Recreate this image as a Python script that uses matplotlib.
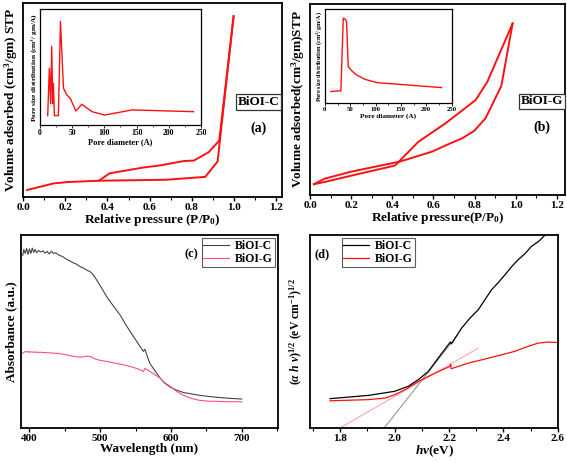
import matplotlib
matplotlib.use("Agg")
import matplotlib.pyplot as plt
from matplotlib.ticker import MultipleLocator

plt.rcParams["font.family"] = ["Liberation Serif", "DejaVu Serif"]
plt.rcParams["font.weight"] = "bold"
plt.rcParams["axes.labelweight"] = "bold"
plt.rcParams["mathtext.fontset"] = "custom"
plt.rcParams["mathtext.rm"] = "Liberation Serif:bold"
plt.rcParams["mathtext.it"] = "Liberation Serif:italic:bold"
plt.rcParams["mathtext.bf"] = "Liberation Serif:bold"

# ---- (a) BiOI-C isotherm ----
a_ads_x = [0.019, 0.145, 0.21, 0.36, 0.68, 0.864, 0.922, 0.998]
a_ads_y = [3.6, 7.0, 7.7, 8.4, 8.9, 10.4, 18.3, 93.2]
a_des_x = [0.998, 0.93, 0.88, 0.81, 0.76, 0.65, 0.57, 0.41, 0.36]
a_des_y = [93.2, 29.1, 23.1, 18.8, 18.5, 16.3, 15.2, 12.2, 8.4]
a_psd_x = [12, 14.6, 16.7, 18.2, 19.8, 20.8, 22.4, 28.6, 31.8, 36.5, 41.7,
           46.9, 55.7, 65, 80.7, 100.5, 143, 238.5]
a_psd_y = [8.1, 49, 18.4, 67.7, 18.4, 36, 8.1, 8.1, 89.3, 31.7, 25.9,
           23.1, 12.1, 17.9, 11.5, 8.6, 13, 11.5]

# ---- (b) BiOI-G isotherm ----
b_ads_x = [0.018, 0.087, 0.2, 0.413, 0.527, 0.658, 0.805, 0.862, 0.985]
b_ads_y = [5.6, 7.2, 10.1, 15.4, 27.9, 37.5, 49.7, 59.3, 89.9]
b_des_x = [0.985, 0.93, 0.853, 0.797, 0.74, 0.675, 0.593, 0.437, 0.2, 0.07, 0.018]
b_des_y = [89.9, 57.1, 40.1, 33.5, 29.7, 26.7, 22.7, 17.5, 12.2, 8.5, 5.6]
b_psd_x = [11.8, 26.3, 31.6, 36.2, 39.5, 42.8, 46, 52.6, 62.5, 79, 102, 230]
b_psd_y = [12.4, 13.1, 13.1, 90.1, 89.4, 86.6, 38.9, 34.6, 30, 25.4, 21.9, 16.6]

# ---- (c) UV-vis absorbance ----
c_wl = [390.6, 392, 394, 396, 398, 400, 402, 404, 406, 408, 410, 413, 416,
        419, 422, 425, 428, 431, 434, 437, 441, 447, 452, 457, 462, 467,
        471.6, 476, 481, 485.7, 490, 495, 502, 509, 518, 528, 537, 547,
        554, 561, 563, 570, 577, 584.6, 591, 598.8, 608, 617.6, 630, 641,
        652, 664.7, 682, 700]
c_abs_c = [89.5, 92.5, 90.5, 93.0, 90.0, 92.8, 90.5, 93.2, 91.0, 92.5, 90.8,
           92.0, 91.2, 91.8, 90.6, 91.5, 90.2, 91.6, 90.4, 90.8, 89.7, 88.8,
           87.5, 86.6, 85.6, 84.8, 83.6, 82.9, 81.8, 81.0, 79.5, 76.7, 72.5,
           68.1, 63.5, 58.6, 53.0, 47.4, 43.5, 39.7, 40.8, 33.6, 29.8, 25.9,
           23.3, 21.2, 19.6, 18.4, 17.6, 16.9, 16.4, 15.9, 15.4, 15.0]
c_abs_g = [38.8, 39.2, 39.6, 39.4, 39.7, 39.2, 39.5, 39.3, 39.4, 39.2, 39.4,
           39.1, 39.3, 39.0, 39.2, 38.9, 39.0, 38.9, 38.7, 38.8, 38.6, 38.2,
           37.9, 37.5, 37.2, 36.9, 36.7, 36.9, 37.2, 37.1, 36.3, 35.5, 34.9,
           34.5, 33.8, 33.1, 32.4, 31.4, 30.5, 29.3, 30.9, 29.3, 27.7, 25.9,
           23.5, 21.6, 19.0, 16.9, 15.2, 14.3, 13.9, 13.8, 13.6, 13.6]

# ---- (d) Tauc plot ----
d_ev_c = [1.763, 1.904, 2.0, 2.05, 2.087, 2.124, 2.16, 2.197, 2.205, 2.209,
          2.246, 2.276, 2.307, 2.332, 2.356, 2.38, 2.405, 2.43, 2.453, 2.478,
          2.502, 2.53, 2.56]
d_tauc_c = [15.2, 16.9, 19.0, 21.6, 25.0, 29.3, 36.2, 43.1, 44.5, 43.6,
            51.7, 56.8, 61.2, 66.5, 71.6, 75.2, 79.3, 83.6, 87.1, 90.2,
            94.0, 96.8, 101.0]
d_ev_g = [1.763, 1.904, 1.965, 2.0, 2.038, 2.087, 2.148, 2.203, 2.206, 2.208,
          2.27, 2.331, 2.392, 2.441, 2.478, 2.527, 2.563, 2.6]
d_tauc_g = [14.1, 14.7, 15.5, 17.2, 19.8, 24.1, 28.4, 31.9, 33.0, 30.7,
            33.6, 35.7, 37.9, 39.7, 41.7, 44.0, 44.5, 44.3]
d_fit_c_x = [1.962, 2.23]
d_fit_c_y = [0.0, 48.0]
d_fit_g_x = [1.8, 2.307]
d_fit_g_y = [0.0, 41.4]

RED = "#ff1010"
LAB = 9.5
TICK = 8


def style_main(ax):
    for s in ax.spines.values():
        s.set_linewidth(1.3)
    ax.set_yticks([])
    ax.tick_params(axis="x", direction="out", length=3, width=1, labelsize=TICK, pad=1.5)
    ax.tick_params(axis="x", which="minor", direction="out", length=1.8, width=0.8)
    for lb in ax.get_xticklabels():
        lb.set_fontweight("bold")


def style_inset(ax, fs=5):
    for s in ax.spines.values():
        s.set_linewidth(0.9)
    ax.set_yticks([])
    ax.set_xlim(0, 250)
    ax.set_ylim(0, 100)
    ax.xaxis.set_major_locator(MultipleLocator(50))
    ax.xaxis.set_minor_locator(MultipleLocator(25))
    ax.tick_params(axis="x", direction="out", length=2, width=0.6, labelsize=fs, pad=1)
    ax.tick_params(axis="x", which="minor", direction="out", length=1.2, width=0.5)
    for lb in ax.get_xticklabels():
        lb.set_fontweight("bold")


fig = plt.figure(figsize=(5.67, 4.63), dpi=100)

# (a)
ax_a = fig.add_axes([0.0406, 0.5745, 0.457, 0.419])
ax_a.plot(a_ads_x, a_ads_y, color=RED, lw=1.4)
ax_a.plot(a_des_x, a_des_y, color=RED, lw=1.4)
ax_a.set_xlim(0, 1.228)
ax_a.set_ylim(0, 100)
ax_a.xaxis.set_major_locator(MultipleLocator(0.2))
ax_a.xaxis.set_minor_locator(MultipleLocator(0.1))
style_main(ax_a)
ax_a.set_xlabel("Relative pressure (P/P$_0$)", fontsize=LAB, labelpad=0)
ax_a.set_ylabel("Volume adsorbed (cm$^3$/gm) STP", fontsize=LAB, labelpad=2)
ax_a.text(0.91, 0.49, "BiOI-C", transform=ax_a.transAxes, fontsize=9.5, ha="center",
          va="center", bbox=dict(boxstyle="square,pad=0.12", fc="white", ec="#333333", lw=0.9))
ax_a.text(0.91, 0.355, "(a)", transform=ax_a.transAxes, fontsize=10, ha="center", va="center")

ins_a = fig.add_axes([0.0705, 0.730, 0.284, 0.2505])
ins_a.plot(a_psd_x, a_psd_y, color=RED, lw=1.0)
style_inset(ins_a, fs=5.5)
ins_a.set_xlabel("Pore diameter (A)", fontsize=6, labelpad=0.5)
ins_a.set_ylabel("Pore size distribution (cm$^3$/ gm/A)", fontsize=5.3, labelpad=1)

# (b)
ax_b = fig.add_axes([0.547, 0.579, 0.4495, 0.412])
ax_b.plot(b_ads_x, b_ads_y, color=RED, lw=1.4)
ax_b.plot(b_des_x, b_des_y, color=RED, lw=1.4)
ax_b.set_xlim(0, 1.24)
ax_b.set_ylim(0, 100)
ax_b.xaxis.set_major_locator(MultipleLocator(0.2))
ax_b.xaxis.set_minor_locator(MultipleLocator(0.1))
style_main(ax_b)
ax_b.set_xlabel("Relative pressure(P/P$_0$)", fontsize=LAB, labelpad=0)
ax_b.set_ylabel("Volume adsorbed(cm$^3$/gm)STP", fontsize=LAB, labelpad=2)
ax_b.text(0.91, 0.49, "BiOI-G", transform=ax_b.transAxes, fontsize=9.5, ha="center",
          va="center", bbox=dict(boxstyle="square,pad=0.12", fc="white", ec="#333333", lw=0.9))
ax_b.text(0.91, 0.355, "(b)", transform=ax_b.transAxes, fontsize=10, ha="center", va="center")

ins_b = fig.add_axes([0.573, 0.777, 0.2235, 0.2037])
ins_b.plot(b_psd_x, b_psd_y, color=RED, lw=1.0)
style_inset(ins_b, fs=4.8)
ins_b.set_xlabel("Pore diameter (A)", fontsize=5.2, labelpad=0.5)
ins_b.set_ylabel("Pore size distribution (cm$^3$/ gm/A)", fontsize=4.4, labelpad=1)

# (c)
ax_c = fig.add_axes([0.037, 0.0756, 0.453, 0.4168])
ax_c.plot(c_wl, c_abs_c, color="#444444", lw=0.8, label="BiOI-C")
ax_c.plot(c_wl, c_abs_g, color="#ff5070", lw=0.8, label="BiOI-G")
ax_c.set_xlim(388, 751)
ax_c.set_ylim(0, 100)
ax_c.xaxis.set_major_locator(MultipleLocator(100))
ax_c.xaxis.set_minor_locator(MultipleLocator(50))
style_main(ax_c)
ax_c.set_xlabel("Wavelength (nm)", fontsize=LAB, labelpad=0)
ax_c.set_ylabel("Absorbance (a.u.)", fontsize=LAB, labelpad=3)
leg_c = ax_c.legend(loc="upper right", fontsize=8.5, frameon=True, fancybox=False,
                    edgecolor="#333333", borderpad=0.15, handlelength=2.2,
                    handletextpad=0.5, labelspacing=0.1, borderaxespad=0.25)
leg_c.get_frame().set_linewidth(0.8)
ax_c.text(0.665, 0.90, "(c)", transform=ax_c.transAxes, fontsize=9, ha="center",
          va="center", zorder=10)

# (d)
ax_d = fig.add_axes([0.547, 0.0756, 0.437, 0.4168])
ax_d.plot(d_fit_g_x, d_fit_g_y, color="#ff9aa8", lw=0.7)
ax_d.plot(d_fit_c_x, d_fit_c_y, color="#888888", lw=0.7)
ax_d.plot(d_ev_c, d_tauc_c, color="black", lw=0.9, label="BiOI-C")
ax_d.plot(d_ev_g, d_tauc_g, color=RED, lw=0.9, label="BiOI-G")
ax_d.set_xlim(1.69, 2.6)
ax_d.set_ylim(0, 100)
ax_d.xaxis.set_major_locator(MultipleLocator(0.2))
ax_d.xaxis.set_minor_locator(MultipleLocator(0.1))
style_main(ax_d)
ax_d.set_xlabel(r"$h\nu$(eV)", fontsize=LAB, labelpad=0)
ax_d.set_ylabel(r"$(\alpha\ h\ \nu)^{1/2}$ (eV cm$^{-1}$)$^{1/2}$", fontsize=8.5, labelpad=4)
handles, labels = ax_d.get_legend_handles_labels()
leg_d = ax_d.legend(handles[-2:], labels[-2:], loc="upper left", fontsize=8.5,
                    frameon=True, fancybox=False, edgecolor="#333333", borderpad=0.15,
                    handlelength=2.2, handletextpad=0.5, labelspacing=0.1,
                    bbox_to_anchor=(0.115, 1.0), borderaxespad=0.25)
leg_d.get_frame().set_linewidth(0.8)
ax_d.text(0.05, 0.90, "(d)", transform=ax_d.transAxes, fontsize=9, ha="center", va="center")

fig.savefig("out.png", dpi=100)
